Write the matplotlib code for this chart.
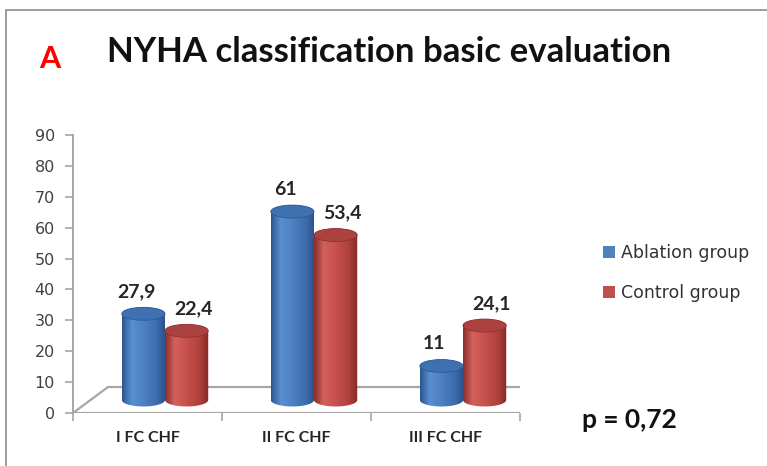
import numpy as np
import matplotlib; matplotlib.use("Agg")
import matplotlib.pyplot as plt
from matplotlib.patches import Ellipse, Polygon, Rectangle, Patch
from matplotlib.colors import LinearSegmentedColormap

# data
categories = ["I FC CHF", "II FC CHF", "III FC CHF"]
ablation = [27.9, 61, 11]
control = [22.4, 53.4, 24.1]
ablation_txt = ["27,9", "61", "11"]
control_txt = ["22,4", "53,4", "24,1"]
series_names = ["Ablation group", "Control group"]
yticks = [0, 10, 20, 30, 40, 50, 60, 70, 80, 90]

W, H = 767, 466
fig = plt.figure(figsize=(W/100, H/100), dpi=100)
def px(x0, y0, x1, y1):
    return [x0/W, 1-y1/H, (x1-x0)/W, (y1-y0)/H]

ax = fig.add_axes(px(73, 135, 520, 413))
ax.set_xlim(0, 3); ax.set_ylim(0, 90)
ax.patch.set_alpha(0)

# pseudo-3d depth (in data units)
DX, DY = 0.235, 8.42
BW, EH = 0.29, 4.2

blue_cm = LinearSegmentedColormap.from_list("b", [(0,"#2B568C"),(0.22,"#5A8ED2"),(0.45,"#4F83C6"),(0.8,"#3D6CAB"),(1,"#29508A")])
red_cm = LinearSegmentedColormap.from_list("r", [(0,"#8A2D2B"),(0.22,"#D3605C"),(0.45,"#C9534F"),(0.8,"#B0403D"),(1,"#842927")])
grad = np.linspace(0, 1, 200).reshape(1, -1)

def cylinder(xc, y0, h, cm, cap, capedge, z):
    t1 = np.linspace(np.pi, 2*np.pi, 60)
    t2 = np.linspace(0, np.pi, 60)
    xs = np.concatenate([xc + BW/2*np.cos(t1), xc + BW/2*np.cos(t2)])
    ys = np.concatenate([y0 + EH/2*np.sin(t1), y0 + h + EH/2*np.sin(t2)])
    poly = Polygon(np.column_stack([xs, ys]), closed=True, fc="none", ec="none", zorder=z)
    ax.add_patch(poly)
    im = ax.imshow(grad, extent=(xc-BW/2, xc+BW/2, y0-EH, y0+h+EH), cmap=cm,
                   aspect="auto", zorder=z, interpolation="bilinear")
    im.set_clip_path(poly)
    ax.add_patch(Ellipse((xc, y0+h), BW, EH, fc=cap, ec=capedge, lw=0.6, zorder=z+0.5))

# floor
fl = dict(color="#A6A6A6", lw=1.6, zorder=1, solid_capstyle="round")
ax.plot([0, 3], [0, 0], **fl)
ax.plot([DX, 3+DX], [DY, DY], **fl)
ax.plot([0, DX], [0, DY], **fl)
ax.plot([3, 3+DX], [0, DY], **fl)

for i in range(len(categories)):
    xb = i + 0.5 - BW/2 + DX/2
    xr = i + 0.5 + BW/2 + DX/2
    cylinder(xb, DY/2, ablation[i], blue_cm, "#3F70B0", "#2F5C96", 3)
    cylinder(xr, DY/2, control[i], red_cm, "#AC423F", "#8E3330", 4)
    for x, v, s, dx in [(xb, ablation[i], ablation_txt[i], -5), (xr, control[i], control_txt[i], 5)]:
        ax.annotate(s, (x, DY/2 + v), xytext=(dx, 12), textcoords="offset points",
                    ha="center", va="baseline", fontsize=14, fontweight="bold",
                    family="Lato", color="#262626", zorder=6)
    ax.text(i + 0.5, -8.1, categories[i], ha="center", va="center", fontsize=11.5,
            fontweight="bold", family="Lato", color="#262626")

ax.set_xlim(0, 3); ax.set_ylim(0, 90)
ax.set_xticks([0, 1, 2, 3]); ax.set_xticklabels([])
ax.set_yticks(yticks)
ax.set_yticklabels([str(v) for v in yticks], fontsize=11.5, color="#404040")
ax.tick_params(axis="both", color="#A6A6A6", length=6, width=1.2, direction="out")
ax.tick_params(axis="y", pad=7)
for s in ["top", "right", "bottom"]:
    ax.spines[s].set_visible(False)
ax.spines["left"].set_color("#A6A6A6"); ax.spines["left"].set_linewidth(1.4)

# legend
handles = [Patch(fc="#4F81BD", ec="none"), Patch(fc="#C0504D", ec="none")]
fig.legend(handles, series_names, loc="center left", bbox_to_anchor=(603/W, 1-273/H),
           frameon=False, fontsize=12.5, handlelength=0.7, handleheight=0.7,
           handletextpad=0.35, labelspacing=1.25, borderpad=0, borderaxespad=0,
           labelcolor="#333333")

fig.text(49.5/W, 1-68/H, "A", color="#FF0000", fontsize=22, fontweight="bold",
         family="Lato", ha="center", va="baseline")
fig.text(107/W, 1-62/H, "NYHA classification basic evaluation", fontsize=25,
         fontweight="bold", family="Lato", ha="left", va="baseline", color="#111111")
fig.text(582/W, 1-428/H, "p = 0,72", fontsize=19, fontweight="bold", family="Lato",
         ha="left", va="baseline", color="#111111")

# outer frame
fig.add_artist(Rectangle((6/W, -0.1), 1.2, 1-10/H+0.1, transform=fig.transFigure,
                         fill=False, ec="#8C8C8C", lw=1.2))

fig.savefig("out.png", dpi=100)
